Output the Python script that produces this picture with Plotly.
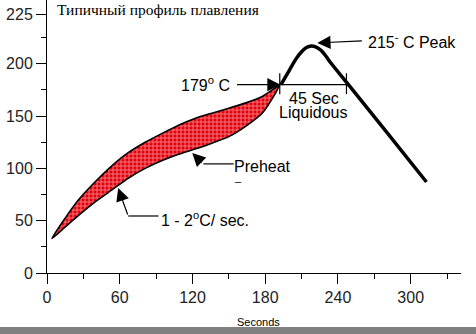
import plotly.graph_objects as go

# ---- data (seconds, °C) ----
band_upper_t = [4, 15, 26, 40, 53.5, 67, 81, 95, 108.5, 122, 136, 150, 163.5, 177.5, 192]
band_upper_c = [33, 52.5, 70, 87.5, 102.5, 115, 125, 133.5, 141.3, 147.8, 152.8, 157.6, 162.4, 168.7, 180]
band_lower_t = [4, 15, 26, 40, 53.5, 67, 81, 95, 108.5, 122, 136, 150, 163.5, 177.5, 188.5, 192]
band_lower_c = [33, 44, 55, 68.2, 79.4, 90.6, 100, 107.5, 113.5, 118.5, 124.1, 130.4, 140, 152.8, 172, 180]

profile_t = [193, 200, 205, 210, 214, 218, 222, 226, 230, 234, 248, 280, 313]
profile_c = [180, 194, 204, 211.5, 215.5, 217, 216, 213, 207.5, 201, 181, 135, 87]

liquidus_temp = 180
liquidus_start = 192
liquidus_end = 247

x_tickvals = [0, 60, 120, 180, 240, 300]
x_minor = [30, 90, 150, 210, 270, 330]
y_tickvals = [0, 50, 100, 150, 200, 247]
y_ticktext = ["0", "50", "100", "150", "200", "225"]
y_minor = [25, 75, 125, 175, 225]

SANS = "Liberation Sans"
SERIF = "Liberation Serif"

fig = go.Figure()

# hatched band (closed polygon)
fig.add_trace(go.Scatter(
    x=band_upper_t + band_lower_t[::-1],
    y=band_upper_c + band_lower_c[::-1],
    mode="lines", fill="toself",
    line=dict(color="black", width=1.6, shape="spline", smoothing=0.6),
    fillcolor="#e4000a",
    fillpattern=dict(shape="+", fgcolor="white", bgcolor="#e4000a",
                     size=4, solidity=0.4),
    hoverinfo="skip", showlegend=False))

# main profile curve
fig.add_trace(go.Scatter(
    x=profile_t, y=profile_c, mode="lines",
    line=dict(color="black", width=3.5, shape="spline", smoothing=0.5),
    showlegend=False, hoverinfo="skip"))

# liquidus bar
fig.add_trace(go.Scatter(
    x=[liquidus_start, liquidus_end], y=[liquidus_temp, liquidus_temp],
    mode="lines", line=dict(color="black", width=1.2),
    showlegend=False, hoverinfo="skip"))
for t in (liquidus_start, liquidus_end):
    fig.add_trace(go.Scatter(
        x=[t, t], y=[liquidus_temp - 9, liquidus_temp + 11],
        mode="lines", line=dict(color="black", width=1.2),
        showlegend=False, hoverinfo="skip"))

# leader lines for bent arrows
fig.add_trace(go.Scatter(x=[129, 154], y=[104.3, 104.3], mode="lines",
                         line=dict(color="black", width=1.2),
                         showlegend=False, hoverinfo="skip"))
fig.add_trace(go.Scatter(x=[67, 92], y=[54.5, 54.5], mode="lines",
                         line=dict(color="black", width=1.2),
                         showlegend=False, hoverinfo="skip"))

arrow_kw = dict(showarrow=True, arrowhead=2, arrowsize=2.2, arrowwidth=1.2,
                arrowcolor="black", text="", axref="pixel", ayref="pixel")
fig.add_annotation(x=192.6, y=180, ax=-45, ay=0, **arrow_kw)
fig.add_annotation(x=223, y=220, ax=46, ay=-2, **arrow_kw)
fig.add_annotation(x=119.8, y=114.8, ax=11, ay=11, **arrow_kw)
fig.add_annotation(x=58.7, y=81.3, ax=10, ay=28, **arrow_kw)

txt = dict(showarrow=False, font=dict(family=SANS, size=16, color="black"))
fig.add_annotation(x=153, y=181, text="179<sup>o</sup> C", xanchor="right", yanchor="middle", **txt)
fig.add_annotation(x=263.5, y=222, text="215<sup>-</sup> C Peak", xanchor="left", yanchor="middle", **txt)
fig.add_annotation(x=220, y=167, text="45 Sec", xanchor="center", yanchor="middle", **txt)
fig.add_annotation(x=220, y=153.5, text="Liquidous", xanchor="center", yanchor="middle", **txt)
fig.add_annotation(x=153, y=101.4, text="Preheat", xanchor="left", yanchor="middle", **txt)
fig.add_annotation(x=153.5, y=88, text="–", xanchor="left", yanchor="middle",
                   showarrow=False, font=dict(family=SANS, size=11, color="black"))
fig.add_annotation(x=92, y=52, text="1 - 2<sup>o</sup>C/ sec.", xanchor="left", yanchor="middle", **txt)

fig.add_annotation(x=6.5, y=252, text="Типичный профиль плавления", xanchor="left",
                   yanchor="middle", showarrow=False,
                   font=dict(family=SERIF, size=15.5, color="black"))
fig.add_annotation(xref="paper", yref="paper", x=0.51, y=-0.18, text="Seconds",
                   xanchor="center", yanchor="middle", showarrow=False,
                   font=dict(family=SANS, size=11, color="black"))

# grey bar at the bottom
fig.add_shape(type="rect", xref="paper", yref="paper", x0=-0.2, x1=1.2,
              y0=-0.198, y1=-0.26, fillcolor="#808080", line=dict(width=0),
              layer="above")

fig.update_xaxes(range=[0, 341.5], tickvals=x_tickvals, ticks="outside",
                 ticklen=10, tickwidth=1, tickcolor="black", showline=True,
                 linecolor="black", linewidth=1, showgrid=False, zeroline=False,
                 tickfont=dict(family=SANS, size=16, color="#222"),
                 minor=dict(tickvals=x_minor, ticks="outside", ticklen=5,
                            tickcolor="black", showgrid=False))
fig.update_yaxes(range=[0, 261], tickvals=y_tickvals, ticktext=y_ticktext,
                 ticks="outside", ticklen=10, tickwidth=1, tickcolor="black",
                 showline=True, linecolor="black", linewidth=1, showgrid=False,
                 zeroline=False,
                 tickfont=dict(family=SANS, size=16, color="#222"),
                 minor=dict(tickvals=y_minor, ticks="outside", ticklen=5,
                            tickcolor="black", showgrid=False))

fig.update_layout(width=476, height=334, margin=dict(l=47, r=15, t=0, b=61),
                  paper_bgcolor="white", plot_bgcolor="white")

fig.write_html("out.html")
